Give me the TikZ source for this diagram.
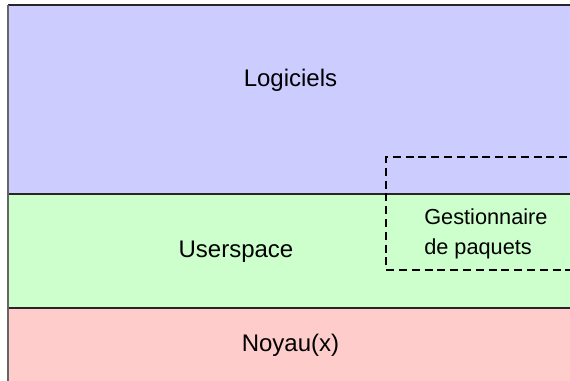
\documentclass[tikz,border=0pt]{standalone}
\usepackage{fontspec}
\setmainfont{Liberation Sans}
\definecolor{layerblue}{HTML}{CCCCFF}
\definecolor{layergreen}{HTML}{CCFFCC}
\definecolor{layerred}{HTML}{FFCCCC}
\tikzset{
  layerlabel/.style={inner sep=0pt, anchor=base, font=\fontsize{18}{22}\selectfont},
  pkglabel/.style={inner sep=0pt, anchor=base west, font=\fontsize{16.3}{19}\selectfont},
  sepline/.style={draw=black!85, line width=1.2pt},
  pkgframe/.style={draw=black, line width=1.5pt, dash pattern=on 6pt off 3.6pt}
}
\begin{document}
\begin{tikzpicture}[x=0.75pt,y=-0.75pt]
  \useasboundingbox (0,0) rectangle (570,381);
  % stacked layers
  \fill[layerblue]  (8,5)   rectangle (570,194);
  \fill[layergreen] (8,194) rectangle (570,308);
  \fill[layerred]   (8,308) rectangle (570,381);
  % frame and separators
  \draw[sepline] (8,5) -- (570,5);
  \draw[sepline] (8,194) -- (570,194);
  \draw[sepline] (8,308) -- (570,308);
  \draw[draw=black!60, line width=1.5pt] (7.5,5) -- (7.5,381);
  % layer names
  \node[layerlabel] (soft) at (290.5,87) {Logiciels};
  \node[layerlabel] (user) at (236,257) {Userspace};
  \node[layerlabel] (kern) at (290.5,351) {Noyau(x)};
  % package manager spanning two layers
  \draw[pkgframe] (580,157) -- (386,157) -- (386,270) -- (580,270);
  \node[pkglabel] (pm1) at (424,224) {Gestionnaire};
  \node[pkglabel] (pm2) at (424,254) {de paquets};
\end{tikzpicture}
\end{document}
